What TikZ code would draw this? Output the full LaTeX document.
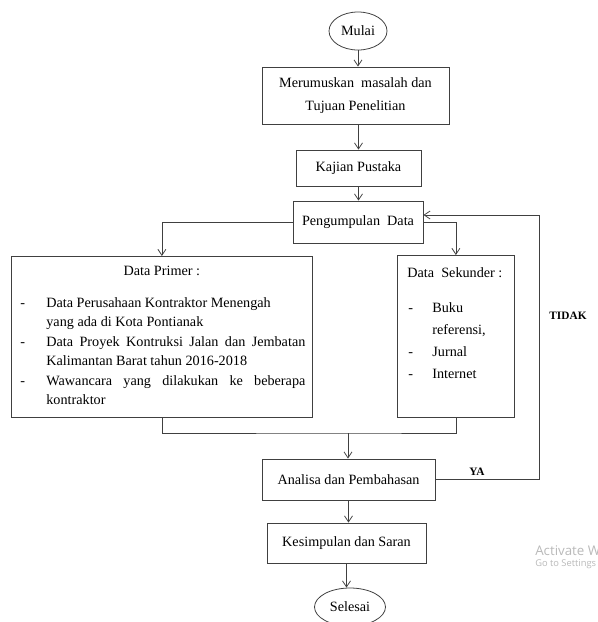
\documentclass[tikz,border=0pt]{standalone}
\usepackage{fontspec}
\setmainfont{Liberation Serif}
\newfontfamily\winfont{Open Sans}
\usetikzlibrary{arrows.meta,shapes.geometric}

\begin{document}
\begin{tikzpicture}[x=0.75pt,y=-0.75pt,
  every node/.style={font=\fontsize{10.65}{17.25}\selectfont},
  kotak/.style={draw=black!75,line width=0.6pt,inner sep=0pt,align=center},
  terminal/.style={draw=black!75,line width=0.6pt,ellipse,inner sep=0pt},
  garis/.style={draw=black!75,line width=0.6pt},
  panah/.style={garis,-{Straight Barb[length=4.5pt,width=6pt]}},
  ket/.style={font=\bfseries\fontsize{8.5}{10}\selectfont}]
  \useasboundingbox (0,0) rectangle (598,622);

  \node[terminal,minimum width=43.5pt,minimum height=28.5pt] (mulai) at (358,31) {Mulai};
  \node[kotak,minimum width=140.25pt,minimum height=42.75pt] (rumus) at (355.5,95.5)
    {Merumuskan\ \ masalah dan\\Tujuan Penelitian};
  \node[kotak,minimum width=93.75pt,minimum height=27pt] (kajian) at (358.5,168) {Kajian Pustaka};
  \node[kotak,minimum width=97.5pt,minimum height=31.5pt] (kumpul) at (358,222) {Pengumpulan\ \ Data};
  \node[kotak,anchor=north west,minimum width=225.75pt,minimum height=120.75pt] (primer) at (11,256)
    {\begin{minipage}[t][120.75pt][t]{225.75pt}
     \fontsize{10.65}{14.6}\selectfont
     \centering\rule{0pt}{14.25pt}Data Primer :\par
     \vspace{9.4pt}
     \raggedright
     \begin{tabular}[t]{@{\hspace{6.75pt}}p{19.5pt}@{}p{194.25pt}@{}}
     - & Data Perusahaan Kontraktor Menengah\newline yang ada di Kota Pontianak\\
     - & \makebox[\linewidth][s]{Data Proyek Kontruksi Jalan dan Jembatan}\newline Kalimantan Barat tahun 2016-2018\\
     - & \makebox[\linewidth][s]{Wawancara yang dilakukan ke beberapa}\newline kontraktor
     \end{tabular}
     \end{minipage}};
  \node[kotak,anchor=north west,minimum width=87.75pt,minimum height=121.5pt] (sekunder) at (397,255)
    {\begin{minipage}[t][121.5pt][t]{87.75pt}
     \fontsize{10.65}{16.6}\selectfont
     \hspace*{7.5pt}\rule{0pt}{16.3pt}Data\ \ Sekunder :\par
     \vspace{9.7pt}
     \begin{tabular}[t]{@{\hspace{8.25pt}}p{18pt}@{}l@{}}
     - & Buku\\
       & referensi,\\
     - & Jurnal\\
     - & Internet
     \end{tabular}
     \end{minipage}};
  \node[kotak,minimum width=129.75pt,minimum height=30.75pt] (analisa) at (348.5,479.5) {Analisa dan Pembahasan};
  \node[kotak,minimum width=119.25pt,minimum height=30pt] (simpul) at (346.5,543) {Kesimpulan dan Saran};
  \node[terminal,minimum width=53.25pt,minimum height=28.5pt] (selesai) at (350,607) {Selesai};

  \coordinate (gabung) at (348,433);
  \coordinate (balik) at (539,215);

  \draw[panah] (mulai) -- (mulai |- rumus.north);
  \draw[panah] (kajian |- rumus.south) -- (kajian.north);
  \draw[panah] (kajian) -- (kajian |- kumpul.north);
  \draw[panah] (kumpul.west) -| (primer.north);
  \draw[panah] (kumpul.east) -| (sekunder.north);
  \draw[garis] (primer.south) |- (gabung) -| (sekunder.south);
  \draw[panah] (gabung) -- (gabung |- analisa.north);
  \draw[panah] (analisa.south) -- (analisa.south |- simpul.north);
  \draw[panah] (simpul.south) -- (simpul.south |- selesai.north);
  \draw[panah] (analisa.east) -| (balik) -- ([yshift=5.25pt]kumpul.east);

  \node[ket] (tidak) at (568,316) {TIDAK};
  \node[ket] (ya) at (477,472) {YA};

  \begin{scope}
  \clip (0,0) rectangle (598,622);
  \node[anchor=west,inner sep=0pt,text=gray!55,font=\winfont\fontsize{10}{12}\selectfont] (aktif) at (535,550) {Activate Windows};
  \node[anchor=west,inner sep=0pt,text=gray!55,font=\winfont\fontsize{7}{8}\selectfont] (setelan) at (535,564) {Go to Settings to activate Windows.};
  \end{scope}
\end{tikzpicture}
\end{document}
